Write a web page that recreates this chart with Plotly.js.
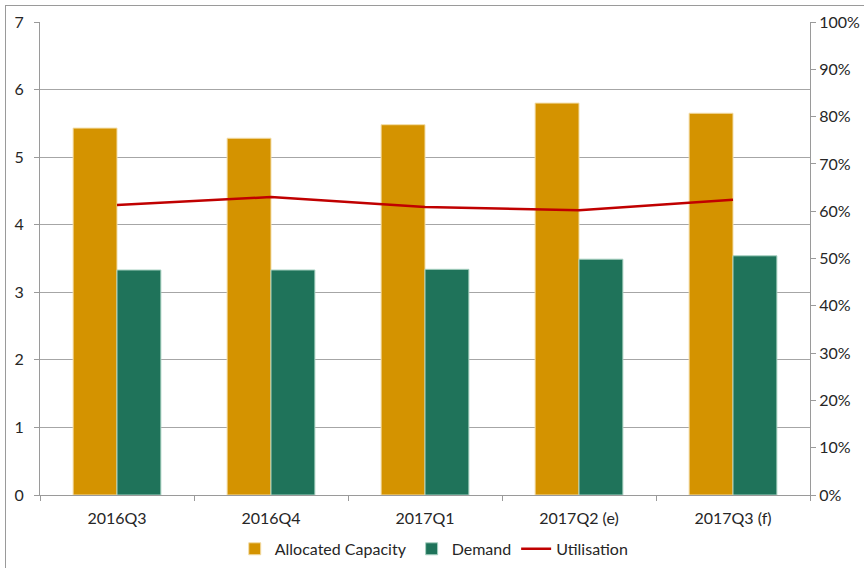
<!DOCTYPE html>
<html>
<head>
<meta charset="utf-8">
<script src="https://cdn.plot.ly/plotly-3.0.1.min.js"></script>
<style>
html,body{margin:0;padding:0;background:#fff;}
#frame{position:absolute;left:5px;top:5px;width:870px;height:570px;border:1px solid #9a9a9a;box-sizing:border-box;}
#chart{position:absolute;left:0;top:0;width:864px;height:568px;}
</style>
</head>
<body>
<div id="frame"></div>
<div id="chart"></div>
<script>
const categories = ["2016Q3", "2016Q4", "2017Q1", "2017Q2 (e)", "2017Q3 (f)"];
const allocatedCapacity = [5.43, 5.28, 5.48, 5.80, 5.65];
const demand = [3.33, 3.33, 3.34, 3.49, 3.54];
const utilisation = [0.613, 0.630, 0.609, 0.602, 0.624];
const leftTicks = [0, 1, 2, 3, 4, 5, 6, 7];
const rightTicks = [0, 0.1, 0.2, 0.3, 0.4, 0.5, 0.6, 0.7, 0.8, 0.9, 1.0];

const font = {family: "Lato, 'Open Sans', sans-serif", size: 16, color: "#262626"};

const traces = [
  {type: "bar", name: "Allocated Capacity", x: categories, y: allocatedCapacity,
   marker: {color: "#D49300", line: {color: "#F3DDA8", width: 1}}},
  {type: "bar", name: "Demand", x: categories, y: demand,
   marker: {color: "#1F735A", line: {color: "#A9D2C2", width: 1}}},
  {type: "scatter", mode: "lines", name: "Utilisation", x: categories, y: utilisation,
   yaxis: "y2", line: {color: "#C00000", width: 2.5}}
];

const layout = {
  width: 864, height: 568,
  margin: {l: 40, r: 54, t: 22, b: 73, autoexpand: false},
  paper_bgcolor: "rgba(0,0,0,0)", plot_bgcolor: "#fff",
  font: font,
  barmode: "group", bargap: 0.43, bargroupgap: 0,
  showlegend: true,
  legend: {orientation: "h", x: 0.512, xanchor: "center", y: -0.078, yanchor: "top",
           font: font, traceorder: "normal", itemwidth: 30},
  xaxis: {type: "category", showgrid: false, showline: true, linecolor: "#9a9a9a", linewidth: 1,
          ticks: "outside", tickson: "boundaries", ticklen: 5, tickcolor: "#9a9a9a",
          tickfont: font, zeroline: false, mirror: false, ticklabelstandoff: 9},
  yaxis: {range: [0, 7], tickvals: leftTicks, showgrid: true, gridcolor: "#a6a6a6", gridwidth: 1,
          showline: true, linecolor: "#9a9a9a", ticks: "outside", ticklen: 5, tickcolor: "#9a9a9a",
          tickfont: font, zeroline: false, ticklabelstandoff: 7},
  yaxis2: {range: [0, 1], overlaying: "y", side: "right", tickvals: rightTicks, tickformat: ".0%",
           showgrid: false, showline: true, linecolor: "#9a9a9a", ticks: "outside", ticklen: 5,
           tickcolor: "#9a9a9a", tickfont: font, zeroline: false}
};

Plotly.newPlot("chart", traces, layout, {displayModeBar: false, staticPlot: true});
</script>
</body>
</html>
